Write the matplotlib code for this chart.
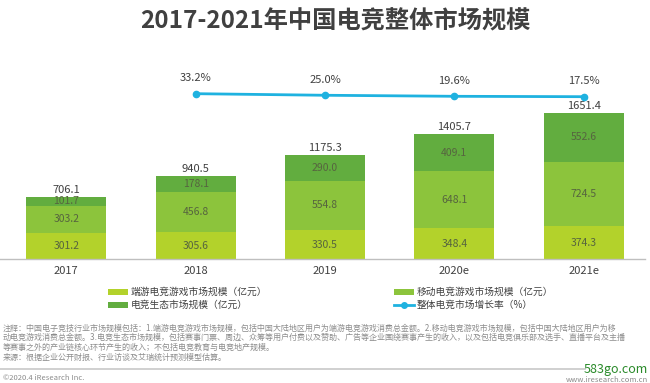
import matplotlib
matplotlib.use("Agg")
import matplotlib.pyplot as plt
from matplotlib.patches import Rectangle
from matplotlib.lines import Line2D

plt.rcParams['font.family'] = ['Noto Sans CJK SC', 'DejaVu Sans']

# data
years = ["2017", "2018", "2019", "2020e", "2021e"]
pc_game = [301.2, 305.6, 330.5, 348.4, 374.3]
mobile_game = [303.2, 456.8, 554.8, 648.1, 724.5]
ecosystem = [101.7, 178.1, 290.0, 409.1, 552.6]
totals = [706.1, 940.5, 1175.3, 1405.7, 1651.4]
growth_years = ["2018", "2019", "2020e", "2021e"]
growth = [33.2, 25.0, 19.6, 17.5]

series_names = ["端游电竞游戏市场规模（亿元）", "移动电竞游戏市场规模（亿元）",
                "电竞生态市场规模（亿元）", "整体电竞市场增长率（%）"]
colors = ["#b3d22b", "#8cc43c", "#62ad3f"]
line_color = "#1fb2e0"

note_lines = [
    "注释：中国电子竞技行业市场规模包括：1.端游电竞游戏市场规模，包括中国大陆地区用户为端游电竞游戏消费总金额。2.移动电竞游戏市场规模，包括中国大陆地区用户为移",
    "动电竞游戏消费总金额。3.电竞生态市场规模，包括赛事门票、周边、众筹等用户付费以及赞助、广告等企业围绕赛事产生的收入，以及包括电竞俱乐部及选手、直播平台及主播",
    "等赛事之外的产业链核心环节产生的收入；不包括电竞教育与电竞地产规模。",
    "来源：根据企业公开财报、行业访谈及艾瑞统计预测模型估算。",
]

W, H = 650, 383
fig = plt.figure(figsize=(6.5, 3.83), dpi=100)

def fx(px):
    return px / W

def fy(py):
    return 1 - py / H

ax = fig.add_axes([0, fy(259.3), fx(645), (259.3 - 70) / H])
x = list(range(len(years)))
bw = 0.62

b1 = ax.bar(x, pc_game, bw, color=colors[0])
bottom2 = [a for a in pc_game]
b2 = ax.bar(x, mobile_game, bw, bottom=bottom2, color=colors[1])
bottom3 = [a + b for a, b in zip(pc_game, mobile_game)]
b3 = ax.bar(x, ecosystem, bw, bottom=bottom3, color=colors[2])

for bars in (b1, b2, b3):
    ax.bar_label(bars, fmt="%.1f", label_type="center", fontsize=7.5, color="#56643f")

for i, t in enumerate(totals):
    ax.annotate(f"{t:.1f}", (i, t), xytext=(0, 1.5), textcoords="offset points",
                ha="center", va="bottom", fontsize=8, color="#404040")

ax.set_xlim(-0.5126, 4.474)
ax.set_ylim(0, 2132)
ax.set_xticks(x)
ax.set_xticklabels(years, fontsize=8, color="#404040")
ax.tick_params(axis="x", length=0, pad=5)
ax.set_yticks([])
for s in ["top", "right", "left"]:
    ax.spines[s].set_visible(False)
ax.spines["bottom"].set_color("#bfbfbf")
ax.spines["bottom"].set_linewidth(1)

ax2 = ax.twinx()
gx = [years.index(g) for g in growth_years]
ax2.plot(gx, growth, color=line_color, lw=2, marker="o", ms=4.5)
for xi, g in zip(gx, growth):
    ax2.annotate(f"{g:.1f}%", (xi, g), xytext=(0, 11), textcoords="offset points",
                 ha="center", va="center", fontsize=8, color="#404040")
ax2.set_ylim(-833.4, 157.2)
ax2.set_yticks([])
for s in ax2.spines.values():
    s.set_visible(False)

# title
fig.text(fx(335), fy(21), "2017-2021年中国电竞整体市场规模", ha="center", va="center",
         fontsize=17.5, fontweight="bold", color="#404040")

# legend
leg_pos = [(108, 292), (394, 292), (108, 305), (394, 305)]
for k, (lx, ly) in enumerate(leg_pos):
    if k < 3:
        fig.add_artist(Rectangle((fx(lx), fy(ly + 3)), fx(20), 6 / H,
                                 transform=fig.transFigure, color=colors[k], lw=0))
    else:
        fig.add_artist(Line2D([fx(lx), fx(lx + 20)], [fy(ly), fy(ly)], transform=fig.transFigure,
                              color=line_color, lw=2))
        fig.add_artist(Line2D([fx(lx + 10)], [fy(ly)], transform=fig.transFigure,
                              color=line_color, marker="o", ms=4))
    fig.text(fx(lx + 23), fy(ly), series_names[k], ha="left", va="center",
             fontsize=7, color="#404040")

# notes
for k, line in enumerate(note_lines):
    fig.text(fx(3), fy(328 + k * 9.8), line, ha="left", va="center", fontsize=5.8, color="#8c8c8c")

fig.add_artist(Line2D([0, fx(585)], [fy(369), fy(369)], transform=fig.transFigure,
                      color="#c8c8c8", lw=1.2))
fig.text(fx(3), fy(378), "©2020.4 iResearch Inc.", ha="left", va="center", fontsize=5.5, color="#8c8c8c")
fig.text(fx(648), fy(379.5), "www.iresearch.com.cn", ha="right", va="center", fontsize=5.5, color="#8c8c8c")
fig.text(fx(648), fy(369), "583go.com", ha="right", va="center", fontsize=9, color="#2a8a2a")

fig.savefig("out.png", dpi=100)
